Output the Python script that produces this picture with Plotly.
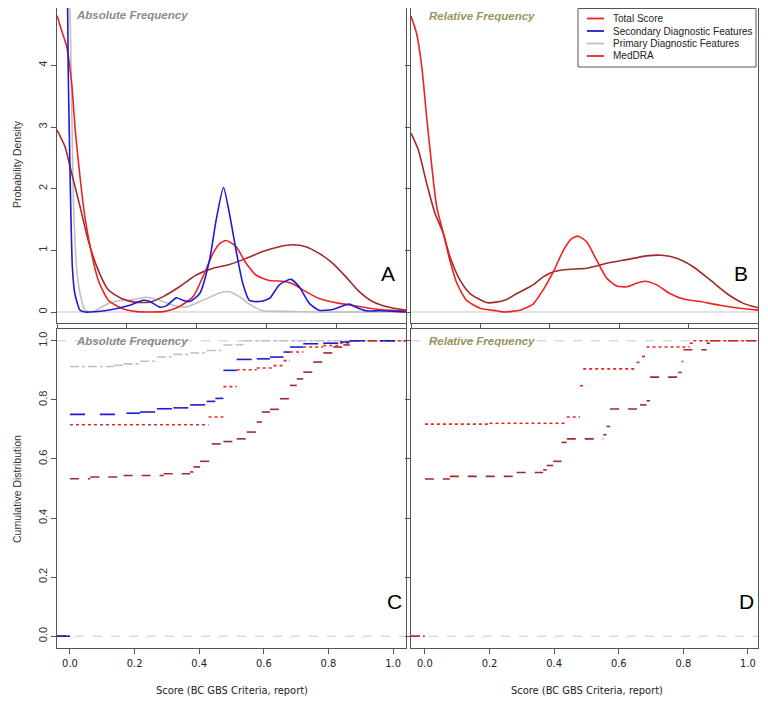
import plotly.graph_objects as go

# ---- density curves (panel A: absolute frequency) ----
red_a_x = [0.0, 0.013, 0.028, 0.042, 0.053, 0.066, 0.08, 0.099, 0.118, 0.147, 0.185, 0.223, 0.26, 0.31,
           0.351, 0.39, 0.418, 0.447, 0.466, 0.485, 0.513, 0.542, 0.57, 0.609, 0.647, 0.675, 0.713, 0.751,
           0.809, 0.866, 0.923, 1.0]
red_a_y = [4.81, 4.57, 4.30, 3.71, 2.90, 2.19, 1.54, 0.95, 0.52, 0.19, 0.06, 0.01, 0.0, 0.01,
           0.09, 0.25, 0.57, 0.95, 1.11, 1.16, 1.06, 0.79, 0.60, 0.51, 0.50, 0.46, 0.33, 0.22,
           0.14, 0.09, 0.04, 0.02]

blue_a_x = [0.0, 0.02, 0.03, 0.032, 0.037, 0.044, 0.051, 0.066, 0.08, 0.137, 0.209, 0.247, 0.266, 0.294,
            0.313, 0.342, 0.361, 0.38, 0.409, 0.437, 0.456, 0.477, 0.494, 0.513, 0.532, 0.551, 0.58,
            0.609, 0.637, 0.67, 0.694, 0.723, 0.751, 0.79, 0.837, 0.856, 0.885, 0.923, 0.97, 1.0]
blue_a_y = [12.0, 7.5, 5.2, 3.98, 2.36, 0.73, 0.30, 0.03, 0.0, 0.02, 0.11, 0.19, 0.17, 0.08,
            0.10, 0.23, 0.19, 0.17, 0.30, 0.84, 1.49, 2.02, 1.60, 1.0, 0.47, 0.19, 0.17,
            0.22, 0.44, 0.53, 0.41, 0.14, 0.03, 0.04, 0.13, 0.08, 0.02, 0.02, 0.01, 0.0]

grey_a_x = [0.0, 0.03, 0.037, 0.042, 0.047, 0.056, 0.066, 0.08, 0.1, 0.147, 0.185, 0.209, 0.256, 0.294,
            0.332, 0.37, 0.418, 0.466, 0.494, 0.523, 0.551, 0.589, 0.65, 0.75, 1.0]
grey_a_y = [25.0, 7.0, 5.0, 3.44, 1.82, 0.73, 0.30, 0.03, 0.0, 0.14, 0.19, 0.19, 0.24, 0.19,
            0.11, 0.08, 0.19, 0.31, 0.33, 0.25, 0.13, 0.02, 0.01, 0.0, 0.0]

brown_a_x = [0.0, 0.023, 0.042, 0.066, 0.089, 0.118, 0.147, 0.185, 0.223, 0.266, 0.304, 0.351, 0.399,
             0.447, 0.494, 0.542, 0.589, 0.637, 0.675, 0.713, 0.751, 0.79, 0.828, 0.866, 0.904, 0.942, 1.0]
brown_a_y = [2.95, 2.68, 2.25, 1.71, 1.17, 0.68, 0.36, 0.22, 0.16, 0.16, 0.25, 0.41, 0.60,
             0.71, 0.77, 0.87, 0.98, 1.06, 1.09, 1.06, 0.95, 0.79, 0.57, 0.33, 0.17, 0.09, 0.03]

# ---- density curves (panel B: relative frequency) ----
red_b_x = [0.0, 0.016, 0.031, 0.045, 0.06, 0.074, 0.093, 0.112, 0.132, 0.16, 0.199, 0.247, 0.27, 0.314,
           0.352, 0.381, 0.41, 0.439, 0.463, 0.482, 0.506, 0.535, 0.564, 0.593, 0.622, 0.651, 0.674,
           0.708, 0.746, 0.785, 0.833, 0.89, 0.948, 1.0]
red_b_y = [4.80, 4.52, 3.98, 3.17, 2.36, 1.71, 1.28, 0.84, 0.47, 0.19, 0.06, 0.02, 0.0, 0.03,
           0.13, 0.36, 0.65, 1.0, 1.19, 1.23, 1.14, 0.84, 0.55, 0.42, 0.41, 0.47, 0.50,
           0.44, 0.30, 0.21, 0.17, 0.11, 0.06, 0.03]

brown_b_x = [0.0, 0.021, 0.045, 0.069, 0.093, 0.112, 0.141, 0.17, 0.22, 0.27, 0.305, 0.352, 0.381,
             0.415, 0.449, 0.506, 0.564, 0.622, 0.679, 0.722, 0.766, 0.814, 0.862, 0.91, 0.958, 1.0]
brown_b_y = [2.90, 2.63, 2.09, 1.60, 1.28, 0.90, 0.52, 0.30, 0.15, 0.19, 0.30, 0.44, 0.57,
             0.66, 0.69, 0.71, 0.79, 0.85, 0.91, 0.92, 0.87, 0.73, 0.52, 0.30, 0.14, 0.07]

# ---- cumulative distributions (panel C: absolute) ----
grey_c_x = [0.0, 0.136, 0.166, 0.217, 0.269, 0.32, 0.372, 0.423, 0.475, 0.516, 0.537]
grey_c_y = [0.913, 0.917, 0.922, 0.931, 0.945, 0.954, 0.959, 0.967, 0.986, 0.987, 1.0]

blue_c_x = [0.0, 0.175, 0.217, 0.269, 0.32, 0.372, 0.423, 0.45, 0.475, 0.516, 0.578, 0.619, 0.661,
            0.681, 0.722, 0.784, 0.836, 0.866]
blue_c_y = [0.751, 0.755, 0.759, 0.770, 0.773, 0.783, 0.795, 0.805, 0.90, 0.937, 0.939, 0.945, 0.962,
            0.979, 0.99, 0.992, 0.996, 1.0]

red_c_x = [0.0, 0.429, 0.475, 0.516, 0.578, 0.63, 0.661, 0.681, 0.722, 0.784, 0.836, 0.866]
red_c_y = [0.716, 0.742, 0.845, 0.902, 0.908, 0.916, 0.933, 0.962, 0.979, 0.984, 0.993, 1.0]

brown_c_x = [0.0, 0.063, 0.166, 0.29, 0.372, 0.382, 0.403, 0.439, 0.475, 0.516, 0.547, 0.578, 0.594,
             0.619, 0.65, 0.681, 0.702, 0.722, 0.753, 0.784, 0.815, 0.846, 0.866]
brown_c_y = [0.533, 0.539, 0.544, 0.55, 0.556, 0.573, 0.592, 0.651, 0.659, 0.668, 0.691, 0.725, 0.759,
             0.768, 0.804, 0.849, 0.871, 0.894, 0.928, 0.959, 0.979, 0.986, 1.0]

# ---- cumulative distributions (panel D: relative) ----
red_d_x = [0.0, 0.2, 0.439, 0.48, 0.49, 0.655, 0.672, 0.686, 0.82, 0.831]
red_d_y = [0.718, 0.721, 0.742, 0.848, 0.905, 0.927, 0.947, 0.979, 0.992, 1.0]

brown_d_x = [0.0, 0.077, 0.284, 0.366, 0.377, 0.397, 0.423, 0.439, 0.552, 0.562, 0.573, 0.666, 0.686,
             0.697, 0.784, 0.795, 0.8, 0.872, 0.882]
brown_d_y = [0.532, 0.541, 0.554, 0.563, 0.578, 0.592, 0.656, 0.668, 0.682, 0.71, 0.769, 0.783, 0.797,
             0.877, 0.893, 0.93, 0.97, 0.992, 1.0]

legend_labels = ["Total Score", "Secondary Diagnostic Features", "Primary Diagnostic Features", "MedDRA"]
legend_colors = ["#ee2222", "#1c1cd6", "#c0c0c0", "#ee2222"]
panel_letters = ["A", "B", "C", "D"]
x_ticks = [0.0, 0.2, 0.4, 0.6, 0.8, 1.0]

RED, BLUE, GREY, BROWN = "#ee2222", "#1c1cd6", "#c0c0c0", "#a02a2a"
# page body has an 8px margin, so the figure is offset by 8px
OFF = 8
W, H = 752, 693
SANS = "Liberation Sans, Arial, sans-serif"
NARROW = "Liberation Sans Narrow, Arial Narrow, DejaVu Sans Condensed, sans-serif"


def px(x):
    return (x - OFF) / W


def py(y):
    return 1 - (y - OFF) / H


def steps(xs, ys, x_end, x_start=-0.04):
    # horizontal pieces only, like plot.ecdf(verticals=FALSE)
    sx, sy = [x_start, xs[0], None], [0, 0, None]
    for i in range(len(xs)):
        x1 = xs[i + 1] if i + 1 < len(xs) else x_end
        sx += [xs[i], x1, None]
        sy += [ys[i], ys[i], None]
    return sx, sy


fig = go.Figure()


def dens(x, y, color, ax):
    fig.add_trace(go.Scatter(x=x, y=y, mode="lines", xaxis="x" + ax, yaxis="y" + ax,
                             line=dict(color=color, width=1.6, shape="spline", smoothing=0.6),
                             showlegend=False, hoverinfo="skip"))


dens(grey_a_x, grey_a_y, GREY, "")
dens(brown_a_x, brown_a_y, BROWN, "")
dens(red_a_x, red_a_y, RED, "")
dens(blue_a_x, blue_a_y, BLUE, "")
dens(brown_b_x, brown_b_y, BROWN, "2")
dens(red_b_x, red_b_y, RED, "2")


def ecdf(x, y, color, dash, ax, x_end, x_start):
    sx, sy = steps(x, y, x_end, x_start)
    fig.add_trace(go.Scatter(x=sx, y=sy, mode="lines", xaxis="x" + ax, yaxis="y" + ax,
                             line=dict(color=color, width=1.6, dash=dash),
                             connectgaps=False, showlegend=False, hoverinfo="skip"))


ecdf(grey_c_x, grey_c_y, GREY, "dashdot", "3", 1.04, -0.04)
ecdf(brown_c_x, brown_c_y, BROWN, "dash", "3", 1.04, -0.04)
ecdf(red_c_x, red_c_y, RED, "dot", "3", 1.04, -0.04)
ecdf(blue_c_x, blue_c_y, BLUE, "longdash", "3", 1.04, -0.04)
ecdf(brown_d_x, brown_d_y, BROWN, "dash", "4", 1.031, -0.043)
ecdf(red_d_x, red_d_y, RED, "dot", "4", 1.031, -0.043)

left = [px(57), px(406)]
right = [px(411), px(758)]
top = [py(323), 1.0]          # top of the page area is y=8
bottom = [py(648), py(329)]
dens_range = [-0.178, 4.93]

axis_common = dict(showline=True, mirror=True, linecolor="#555555", linewidth=1, showgrid=False,
                   zeroline=False, ticks="outside", ticklen=5, tickcolor="#555555",
                   tickfont=dict(family=SANS, size=11, color="#333333"))
narrow_ticks = {**axis_common, "tickfont": dict(family=NARROW, size=11, color="#222222")}

fig.update_layout(
    width=W, height=H, margin=dict(l=0, r=0, t=0, b=0),
    paper_bgcolor="white", plot_bgcolor="white", showlegend=False,
    xaxis=dict(domain=left, anchor="y", range=[0, 1], tickvals=x_ticks, showticklabels=False, **axis_common),
    yaxis=dict(domain=top, anchor="x", range=dens_range, tickvals=[0, 1, 2, 3, 4], tickangle=-90,
               **axis_common),
    xaxis2=dict(domain=right, anchor="y2", range=[0, 1], tickvals=x_ticks, showticklabels=False,
                **axis_common),
    yaxis2=dict(domain=top, anchor="x2", range=dens_range, tickvals=[0, 1, 2, 3, 4],
                showticklabels=False, **axis_common),
    xaxis3=dict(domain=left, anchor="y3", range=[-0.04, 1.04], tickvals=x_ticks, tickformat=".1f",
                **narrow_ticks),
    yaxis3=dict(domain=bottom, anchor="x3", range=[-0.04, 1.04], tickvals=x_ticks, tickformat=".1f",
                tickangle=-90, **axis_common),
    xaxis4=dict(domain=right, anchor="y4", range=[-0.043, 1.031], tickvals=x_ticks, tickformat=".1f",
                **narrow_ticks),
    yaxis4=dict(domain=bottom, anchor="x4", range=[-0.04, 1.04], tickvals=x_ticks,
                showticklabels=False, **axis_common),
)

# reference lines
for ax in ["", "2"]:
    fig.add_shape(type="line", xref="x%s domain" % ax, yref="y" + ax, x0=0, x1=1, y0=0, y1=0,
                  line=dict(color="#c8c8c8", width=1.2), layer="below")
for ax in ["3", "4"]:
    for yv in [0, 1]:
        fig.add_shape(type="line", xref="x%s domain" % ax, yref="y" + ax, x0=0, x1=1, y0=yv, y1=yv,
                      line=dict(color="#c8c8c8", width=1, dash="dash"), layer="below")


def note(text, x, y, size, color, family=SANS, xanchor="center", angle=0):
    fig.add_annotation(text=text, xref="paper", yref="paper", x=px(x), y=py(y), xanchor=xanchor,
                       yanchor="middle", textangle=angle, showarrow=False,
                       font=dict(family=family, size=size, color=color))


# panel captions
captions = [("Absolute Frequency", "#8a8a8a", 74, 15), ("Relative Frequency", "#9a9460", 427, 16),
            ("Absolute Frequency", "#8a8a8a", 74, 341), ("Relative Frequency", "#9a9460", 427, 341)]
for text, col, x, y in captions:
    note("<b><i>%s</i></b>" % text, x, y, 11.5, col, xanchor="left")

for letter, (x, y) in zip(panel_letters, [(388, 273), (741, 273), (394, 601), (746, 601)]):
    note(letter, x, y, 21, "black")

# axis titles
note("Probability Density", 17, 164, 10.5, "#333333", angle=-90)
note("Cumulative Distribution", 17, 489, 10.5, "#333333", angle=-90)
for xc in [232, 587]:
    note("Score (BC GBS Criteria, report)", xc, 690, 11, "#222222", family=NARROW)

# legend box in panel B
fig.add_shape(type="rect", xref="paper", yref="paper", x0=px(578), x1=px(756), y0=py(67), y1=py(8.5),
              line=dict(color="#555555", width=1), fillcolor="white")
for i, (lab, col) in enumerate(zip(legend_labels, legend_colors)):
    yy = 18.5 + 12.5 * i
    fig.add_shape(type="line", xref="paper", yref="paper", x0=px(587), x1=px(604), y0=py(yy), y1=py(yy),
                  line=dict(color=col, width=1.8))
    note(lab, 611, yy, 10, "#222222", xanchor="left")

fig.write_html("out.html")
